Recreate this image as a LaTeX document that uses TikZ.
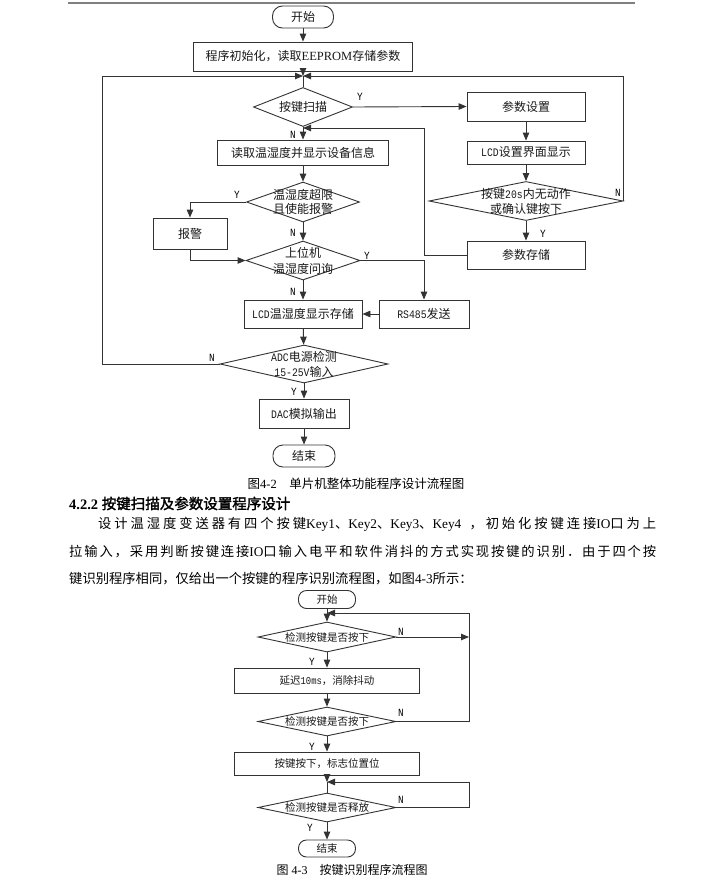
\documentclass[tikz,border=0pt]{standalone}
\usepackage{fontspec}
\setmainfont{Liberation Serif}
\newfontfamily\cjk[AutoFakeBold=2]{Noto Sans CJK SC}
\newfontfamily\monofam[FakeStretch=0.85]{Liberation Mono}
\usetikzlibrary{arrows.meta,shapes.geometric}
\newcount\mycnt
\XeTeXinterchartokenstate=1
\mycnt="3000
\loop\ifnum\mycnt<"A000 \XeTeXcharclass\mycnt=7 \advance\mycnt by 1 \repeat
\mycnt="FF00
\loop\ifnum\mycnt<"FF60 \XeTeXcharclass\mycnt=7 \advance\mycnt by 1 \repeat
\XeTeXinterchartoks 7 7 = {\hskip 0pt plus 1pt\relax}
\newcommand\szA{\fontsize{12}{15}\selectfont}
\newcommand\szB{\fontsize{10.5}{13}\selectfont}
\newcommand\lat[1]{{\monofam\fontsize{11.5}{12}\selectfont #1}}
\newcommand\latB[1]{{\monofam\fontsize{10.5}{12}\selectfont #1}}
\tikzset{
  lnc/.style={draw=black!80, line width=0.9pt},
  arr/.style={lnc, -{Triangle[length=8pt,width=6.5pt]}},
  box/.style 2 args={draw=black!80, line width=0.9pt, rectangle, inner sep=0pt, minimum width=#1, minimum height=#2, font=\cjk\szA, text=black!90},
  boxs/.style 2 args={box={#1}{#2}, font=\cjk\szB},
  termA/.style 2 args={box={#1}{#2}, rounded corners=10pt},
  termB/.style 2 args={boxs={#1}{#2}, rounded corners=8pt},
  dia/.style 2 args={draw=black!80, line width=0.9pt, diamond, inner sep=0pt, minimum width=#1, minimum height=#2},
  dtxt/.style={inner sep=0pt, align=center, font=\cjk\szA, text=black!90},
  dtxts/.style={inner sep=0pt, align=center, font=\cjk\szB, text=black!90},
  yn/.style={inner sep=0pt, font=\monofam\fontsize{11}{11}\selectfont},
  body/.style={inner sep=0pt, anchor=base west, font=\fontsize{13.3}{16}\selectfont},
}
\begin{document}
\begin{tikzpicture}[x=1pt,y=-1pt]
\fill[white] (0,0) rectangle (721,878);
\useasboundingbox (0,0) rectangle (721,878);
\draw[line width=1.5pt, draw=black!50] (68,3) -- (635,3);

% ---------- top chart ----------
\node[termA={61pt}{22pt}] (s1) at (303,17) {开始};
\node[box={219pt}{29pt}] (init) at (303,56.5) {程序初始化，读取{\rmfamily\fontsize{12.5}{15}\selectfont EEPROM}存储参数};
\coordinate (J1) at (303,76);
\node[dia={99pt}{39pt}] (scan) at (303,107) {};
\node[dtxt] (scanT) at (scan) {按键扫描};
\node[box={171pt}{25pt}] (read) at (303,152.5) {读取温湿度并显示设备信息};
\coordinate (J2) at (303,128);
\node[dia={113pt}{40pt}] (over) at (303,202) {};
\node[dtxt] (overT) at (over) {温湿度超限\\[-1pt]且使能报警};
\node[box={74pt}{31pt}] (alarm) at (190,233.5) {报警};
\node[dia={114pt}{39pt}] (host) at (303,260.5) {};
\node[dtxt] (hostT) at (host) {上位机\\[1pt]温湿度问询};
\node[box={118pt}{28pt}] (lcd) at (303,314) {\lat{LCD}温湿度显示存储};
\node[box={90pt}{28pt}] (rs) at (424,314) {\lat{RS485}发送};
\node[dia={168pt}{38pt}] (adc) at (304,364) {};
\node[dtxt] (adcT) at (adc) {\lat{ADC}电源检测\\\lat{15-25V}输入};
\node[box={90pt}{29pt}] (dac) at (304,413.5) {\lat{DAC}模拟输出};
\node[termA={62pt}{22pt}] (e1) at (304,456) {结束};

\node[box={118pt}{29pt}] (param) at (526,106.5) {参数设置};
\node[box={118pt}{23pt}] (lcdset) at (526,152.5) {\lat{LCD}设置界面显示};
\node[dia={194pt}{39pt}] (kw) at (526,201) {};
\node[dtxt] (kwT) at (kw) {按键\lat{20s}内无动作\\或确认键按下};
\node[box={118pt}{28pt}] (store) at (526,255) {参数存储};

\coordinate (LX) at (102,364);
\coordinate (RX) at (424,255);

\draw[arr] (s1) -- (init);
\draw[arr] (init) -- (J1);
\draw[lnc] (J1) -- (scan.north);
\draw[arr] (adc.west) -- (LX) |- (J1);
\draw[arr] (kw.east) |- (J1);
\draw[arr] (scan.east) -- (param.west);
\draw[arr] (scan.south) -- (read.north);
\draw[arr] (store.west) -- (RX) |- (J2);
\draw[arr] (read) -- (over);
\draw[arr] (over.west) -| (alarm.north);
\draw[arr] (over) -- (host);
\draw[arr] (alarm.south) |- (host.west);
\draw[arr] (host.east) -| (rs.north);
\draw[arr] (host) -- (lcd);
\draw[arr] (rs) -- (lcd);
\draw[arr] (lcd) -- (adc);
\draw[arr] (adc) -- (dac);
\draw[arr] (dac) -- (e1);
\draw[arr] (param) -- (lcdset);
\draw[arr] (lcdset) -- (kw);
\draw[arr] (kw) -- (store);

\node[yn] (y1) at (360,97) {Y};
\node[yn] (n1) at (293,135) {N};
\node[yn] (y2) at (237,195) {Y};
\node[yn] (n2) at (293,233) {N};
\node[yn] (y3) at (367,256) {Y};
\node[yn] (n3) at (293,292) {N};
\node[yn] (n4) at (212,358) {N};
\node[yn] (y4) at (294,392) {Y};
\node[yn] (n5) at (618,193) {N};
\node[yn] (y5) at (543,234) {Y};

\node[inner sep=0pt, anchor=base, font=\fontsize{12.5}{15}\selectfont] (cap1) at (356,488) {{\cjk 图}4-2{\cjk 　单片机整体功能程序设计流程图}};

% ---------- text ----------
\node[inner sep=0pt, anchor=base west, font=\fontsize{14.5}{17}\selectfont\bfseries] (head) at (69,509) {4.2.2 {\cjk\bfseries 按键扫描及参数设置程序设计}};
\node[body] (p1) at (98,528) {\makebox[558pt][s]{{\cjk 设计温湿度变送器有四个按键}Key1{\cjk 、}Key2{\cjk 、}Key3{\cjk 、}Key4 {\cjk ，初始化按键连接}IO{\cjk 口为上}}};
\node[body] (p2) at (69,556) {\makebox[587pt][s]{{\cjk 拉输入，采用判断按键连接}IO{\cjk 口输入电平和软件消抖的方式实现按键的识别．由于四个按}}};
\node[body] (p3) at (69,583) {{\cjk 键识别程序相同，仅给出一个按键的程序识别流程图，如图}4-3{\cjk 所示：}};

% ---------- bottom chart ----------
\node[termB={57pt}{18pt}] (s2) at (327,599.5) {开始};
\node[dia={138pt}{30pt}] (d1) at (327,637) {};
\node[dtxts] (d1T) at (d1) {检测按键是否按下};
\node[boxs={185pt}{25pt}] (b1) at (327,680.5) {延迟\latB{10ms}，消除抖动};
\node[dia={138pt}{29pt}] (d2) at (327,721.5) {};
\node[dtxts] (d2T) at (d2) {检测按键是否按下};
\node[boxs={185pt}{23pt}] (b2) at (327,763.5) {按键按下，标志位置位};
\node[dia={138pt}{29pt}] (d3) at (327,807.5) {};
\node[dtxts] (d3T) at (d3) {检测按键是否释放};
\node[termB={57pt}{17pt}] (e2) at (327,848.5) {结束};

\coordinate (J3) at (327,613);
\coordinate (J4) at (327,782);
\coordinate (R1) at (469,637);
\coordinate (R2) at (469,721.5);
\coordinate (R3) at (469,807.5);

\draw[arr] (s2) -- (d1);
\draw[arr] (d1.east) -- (R1);
\draw[arr] (d2.east) -- (R2) |- (J3);
\draw[arr] (d1) -- (b1);
\draw[arr] (b1) -- (d2);
\draw[arr] (d2) -- (b2);
\draw[arr] (b2) -- (J4);
\draw[lnc] (J4) -- (d3.north);
\draw[arr] (d3.east) -- (R3) |- (J4);
\draw[arr] (d3) -- (e2);

\node[yn] (bn1) at (401,632) {N};
\node[yn] (by1) at (312,662) {Y};
\node[yn] (bn2) at (401,713) {N};
\node[yn] (by2) at (312,747) {Y};
\node[yn] (bn3) at (401,800) {N};
\node[yn] (by3) at (310,828) {Y};

\node[inner sep=0pt, anchor=base, font=\fontsize{12}{15}\selectfont] (cap2) at (352,874) {{\cjk 图} 4-3{\cjk 　按键识别程序流程图}};
\end{tikzpicture}
\end{document}
